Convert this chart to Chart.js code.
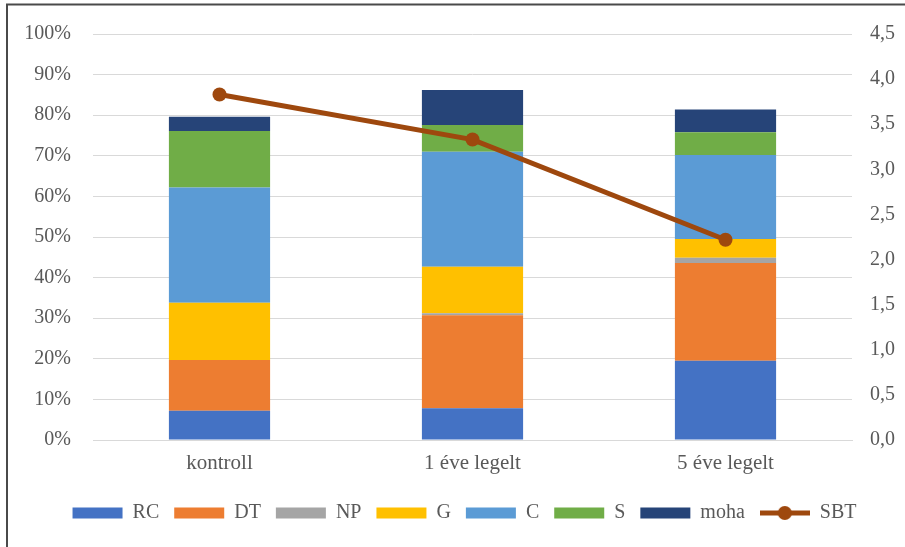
<!DOCTYPE html>
<html>
<head>
<meta charset="utf-8">
<script src="https://cdn.jsdelivr.net/npm/chart.js@4/dist/chart.umd.min.js"></script>
<style>
  html, body { margin: 0; padding: 0; background: #ffffff; }
  #wrap { position: absolute; left: 0; top: 0; width: 905px; height: 547px; }
</style>
</head>
<body>
<div id="wrap"><canvas id="c" width="905" height="547"></canvas></div>
<script>
const categories = ['kontroll', '1 éve legelt', '5 éve legelt'];
const RC   = [7.2, 7.8, 19.5];
const DT   = [12.5, 22.9, 24.1];
const NP   = [0, 0.5, 1.3];
const G    = [14.1, 11.5, 4.6];
const C    = [28.4, 28.3, 20.7];
const S    = [13.9, 6.6, 5.6];
const moha = [3.5, 8.6, 5.6];
const SBT  = [3.83, 3.33, 2.22];

const FONT = '"Liberation Serif", "Times New Roman", serif';
const TXT = '#595959';
const GRID = '#d9d9d9';

// legend marker for SBT (line + dot)
const sbtMark = document.createElement('canvas');
sbtMark.width = 50; sbtMark.height = 16;
(function () {
  const g = sbtMark.getContext('2d');
  g.strokeStyle = '#9E480E'; g.lineWidth = 5;
  g.beginPath(); g.moveTo(0, 8); g.lineTo(50, 8); g.stroke();
  g.fillStyle = '#9E480E';
  g.beginPath(); g.arc(25, 8, 7, 0, Math.PI * 2); g.fill();
})();

const frame = {
  id: 'frame',
  afterDraw(chart) {
    const ctx = chart.ctx;
    ctx.save();
    ctx.strokeStyle = '#4a4a4a';
    ctx.lineWidth = 2;
    ctx.beginPath();
    ctx.moveTo(7, 547); ctx.lineTo(7, 4.5); ctx.lineTo(905, 4.5);
    ctx.stroke();
    ctx.restore();
  }
};

function bar(label, data, color) {
  return { type: 'bar', label, data, backgroundColor: color, borderWidth: 0,
           yAxisID: 'y', barPercentage: 0.4, categoryPercentage: 1.0, order: 1 };
}

new Chart(document.getElementById('c'), {
  data: {
    labels: categories,
    datasets: [
      bar('RC', RC, '#4472C4'),
      bar('DT', DT, '#ED7D31'),
      bar('NP', NP, '#A5A5A5'),
      bar('G', G, '#FFC000'),
      bar('C', C, '#5B9BD5'),
      bar('S', S, '#70AD47'),
      bar('moha', moha, '#264478'),
      { type: 'line', label: 'SBT', data: SBT, yAxisID: 'y1', order: 0,
        borderColor: '#9E480E', backgroundColor: '#9E480E', borderWidth: 5,
        pointRadius: 7, pointHoverRadius: 7, pointBorderWidth: 0,
        pointBackgroundColor: '#9E480E', tension: 0, fill: false }
    ]
  },
  options: {
    responsive: false,
    animation: false,
    events: [],
    layout: { padding: { left: 24, right: 0, top: 34, bottom: 14 } },
    scales: {
      x: {
        stacked: true,
        grid: { display: false, drawTicks: false },
        border: { display: true, color: GRID, width: 1 },
        ticks: { color: TXT, font: { family: FONT, size: 21 }, padding: 11 },
        afterFit(s) { s.height = 48; }
      },
      y: {
        stacked: true, position: 'left', min: 0, max: 100,
        grid: { color: GRID, lineWidth: 1, drawTicks: false },
        border: { display: false },
        ticks: { stepSize: 10, color: TXT, font: { family: FONT, size: 20 }, padding: 22,
                 callback: v => v + '%' },
        afterFit(s) { s.width = 69; }
      },
      y1: {
        position: 'right', min: 0, max: 4.5,
        grid: { display: false, drawTicks: false },
        border: { display: false },
        ticks: { stepSize: 0.5, color: TXT, font: { family: FONT, size: 20 }, padding: 18,
                 callback: v => v.toFixed(1).replace('.', ',') },
        afterFit(s) { s.width = 53; }
      }
    },
    plugins: {
      tooltip: { enabled: false },
      legend: {
        position: 'bottom',
        labels: {
          color: TXT,
          font: { family: FONT, size: 20 },
          usePointStyle: true,
          pointStyleWidth: 50,
          boxWidth: 50,
          boxHeight: 11,
          padding: 15,
          generateLabels(chart) {
            return chart.data.datasets.map((ds, i) => ({
              text: ds.label,
              fillStyle: ds.backgroundColor,
              strokeStyle: 'rgba(0,0,0,0)',
              lineWidth: 0,
              fontColor: TXT,
              hidden: false,
              datasetIndex: i,
              pointStyle: ds.type === 'line' ? sbtMark : 'rect'
            }));
          }
        }
      }
    }
  },
  plugins: [frame]
});
</script>
</body>
</html>
